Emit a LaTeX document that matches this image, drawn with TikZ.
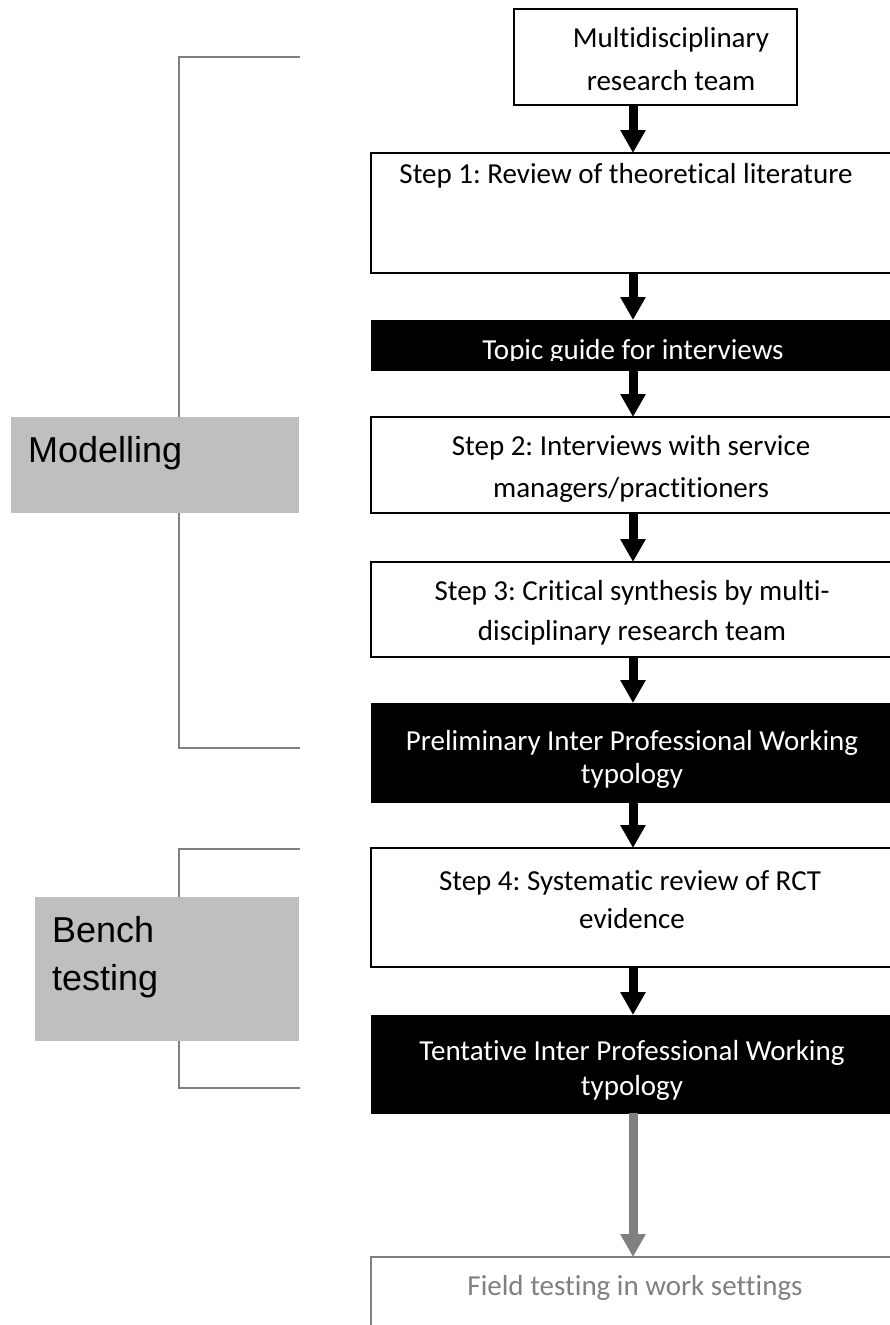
\documentclass[tikz,border=0pt]{standalone}
\usepackage{fontspec}
\setmainfont{Carlito}[Ligatures=NoCommon]
\newfontfamily\arialf{Liberation Sans}
\usetikzlibrary{arrows.meta}
\definecolor{brk}{RGB}{128,128,128}
\definecolor{lblfill}{RGB}{191,191,191}
\definecolor{fieldgray}{RGB}{128,128,128}
\frenchspacing
\tikzset{
 wbox/.style={draw=black, line width=1.3pt, fill=white, anchor=north west, inner sep=0pt, outer sep=0pt},
 bbox/.style={draw=black, line width=1pt, fill=black, anchor=north west, inner sep=0pt, outer sep=0pt},
 gbox/.style={draw=brk, line width=1.3pt, anchor=north west, inner sep=0pt, outer sep=0pt},
 txt/.style={anchor=base, inner sep=0pt, font=\fontsize{29}{35}\selectfont},
 wtxt/.style={txt, text=white},
 arr/.style={line width=9pt, draw=black, -{Triangle[width=24pt,length=23pt]}},
 garr/.style={line width=9pt, draw=brk, -{Triangle[width=24pt,length=23pt]}},
 brack/.style={draw=brk, line width=2pt},
 lbl/.style={fill=lblfill, anchor=north west, inner sep=0pt, outer sep=0pt},
 ltxt/.style={anchor=base west, inner sep=0pt, font=\arialf\fontsize{36}{48}\selectfont},
}
\begin{document}
\begin{tikzpicture}[x=1pt,y=-1pt]
\useasboundingbox (0,0) rectangle (890,1325);
\clip (0,0) rectangle (890,1325);

% brackets
\coordinate (m1) at (300,57);
\coordinate (m2) at (300,748);
\coordinate (b1) at (300,849);
\coordinate (b2) at (300,1088);
\draw[brack] (m1) -- (179,57) -- (179,748) -- (m2);
\draw[brack] (b1) -- (179,849) -- (179,1088) -- (b2);

% label boxes
\node[lbl, minimum width=288pt, minimum height=96pt] (modbox) at (11,417) {};
\node[ltxt] (modt) at (28,462) {Modelling};
\node[lbl, minimum width=264pt, minimum height=144pt] (benchbox) at (35,897) {};
\node[ltxt] (bencha) at (52,942) {Bench};
\node[ltxt] (benchb) at (52,990) {testing};

% boxes
\node[wbox, minimum width=283pt, minimum height=96pt] (team) at (514,9) {};
\node[wbox, minimum width=524pt, minimum height=120pt] (s1) at (371,153) {};
\node[bbox, minimum width=524pt, minimum height=50pt] (topic) at (371,320) {};
\node[wbox, minimum width=524pt, minimum height=96pt] (s2) at (371,417) {};
\node[wbox, minimum width=524pt, minimum height=95pt] (s3) at (371,562) {};
\node[bbox, minimum width=524pt, minimum height=99pt] (prelim) at (371,703) {};
\node[wbox, minimum width=524pt, minimum height=119pt] (s4) at (371,848) {};
\node[bbox, minimum width=524pt, minimum height=98pt] (tent) at (371,1015) {};
\node[gbox, minimum width=524pt, minimum height=90pt] (field) at (371,1257) {};

% texts
\node[txt] (teamA) at (671,47) {Multidisciplinary};
\node[txt] (teamB) at (671,90) {research team};
\node[txt] (s1t) at (626,183) {Step 1: Review of theoretical literature};
\begin{scope}
\clip (371,320) rectangle (895,360);
\node[wtxt] (topict) at (633,359) {Topic guide for interviews};
\end{scope}
\node[txt] (s2a) at (631,455) {Step 2: Interviews with service};
\node[txt] (s2b) at (631,497) {managers/practitioners};
\node[txt] (s3a) at (632,600) {Step 3: Critical synthesis by multi-};
\node[txt] (s3b) at (632,640) {disciplinary research team};
\node[wtxt] (pa) at (632,750) {Preliminary Inter Professional Working};
\node[wtxt] (pb) at (632,783) {typology};
\node[txt] (s4a) at (630,890) {Step 4: Systematic review of RCT};
\node[txt] (s4b) at (632,928) {evidence};
\node[wtxt] (ta) at (632,1060) {Tentative Inter Professional Working};
\node[wtxt] (tb) at (632,1095) {typology};
\node[txt, text=fieldgray] (ft) at (635,1295) {Field testing in work settings};

% arrows
\draw[arr] (s1.north |- team.south) -- (s1.north);
\draw[arr] (s1.south) -- (topic.north);
\draw[arr] (topic.south) -- (s2.north);
\draw[arr] (s2.south) -- (s3.north);
\draw[arr] (s3.south) -- (prelim.north);
\draw[arr] (prelim.south) -- (s4.north);
\draw[arr] (s4.south) -- (tent.north);
\draw[garr] (tent.south) -- (field.north);
\end{tikzpicture}
\end{document}
